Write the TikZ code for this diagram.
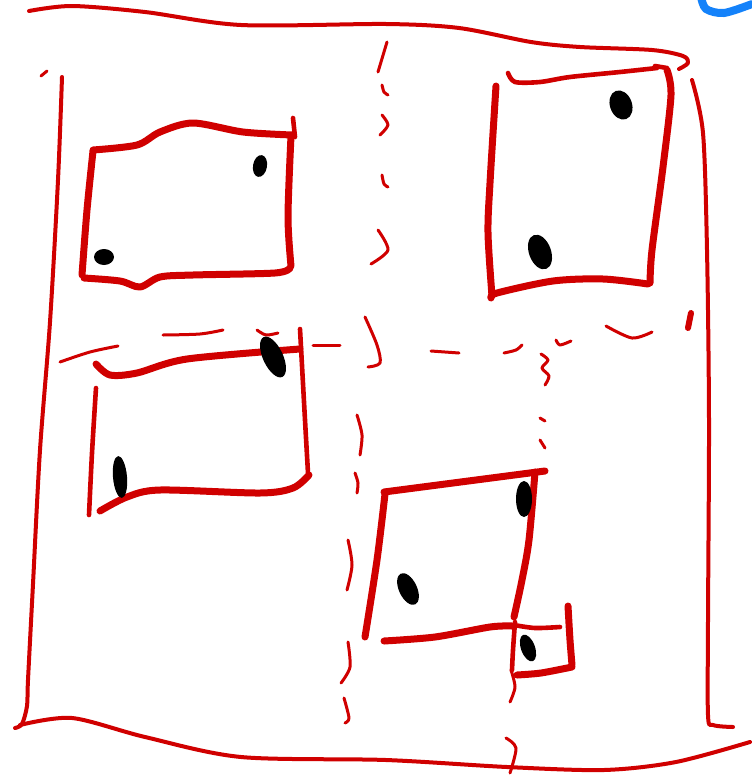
\documentclass[tikz,border=0pt]{standalone}
\definecolor{inkred}{RGB}{208,0,0}
\definecolor{inkblue}{RGB}{20,130,250}
\tikzset{
  frame/.style={draw=inkred, line width=4pt, line cap=round, line join=round},
  boxline/.style={draw=inkred, line width=7pt, line cap=round, line join=round},
  thinbox/.style={draw=inkred, line width=4.6pt, line cap=round, line join=round},
  dashmark/.style={draw=inkred, line width=3pt, line cap=round, line join=round},
  blob/.style={fill=black}
}
\begin{document}
\begin{tikzpicture}[x=1pt,y=-1pt]
\useasboundingbox (0,0) rectangle (752,782);
% blue arc top right
\draw[draw=inkblue, line width=8pt, line cap=round] plot[smooth] coordinates {(701,-3) (706,9) (724,13) (752,4)};
% outer frame
\draw[frame] plot[smooth] coordinates {(29,11) (72,6) (145,12) (241,25) (386,24) (459,28) (531,42) (580,47) (652,50) (683,56) (688,63) (679,69)};
\draw[frame] plot[smooth] coordinates {(62,77) (58,180) (50,322) (40,450) (33,584) (28,680) (27,706) (22,724) (15,728)};
\draw[frame] plot[smooth] coordinates {(20,725) (72,718) (145,737) (241,757) (386,760) (507,767) (604,770) (676,762) (750,742)};
\draw[frame] plot[smooth] coordinates {(692,80) (703,133) (707,250) (709,420) (708,620) (708,715) (713,725) (733,727)};
\draw[dashmark] (41,76) -- (47,71);
% dashed vertical (upper middle)
\draw[dashmark] plot[smooth] coordinates {(387,42) (384,52) (378,72)};
\draw[dashmark] plot[smooth] coordinates {(382,85) (384,92) (388,95)};
\draw[dashmark] plot[smooth] coordinates {(382,115) (388,125) (380,135)};
\draw[dashmark] plot[smooth] coordinates {(382,175) (384,184) (388,187)};
\draw[dashmark] plot[smooth] coordinates {(378,230) (388,250) (371,264)};
\draw[dashmark] plot[smooth] coordinates {(365,317) (377,345) (380,363) (368,367)};
% dashed horizontal
\draw[dashmark] plot[smooth] coordinates {(60,362) (90,352) (118,346)};
\draw[dashmark] plot[smooth] coordinates {(163,335) (200,334) (223,330)};
\draw[dashmark] plot[smooth] coordinates {(257,330) (266,335) (278,333)};
\draw[dashmark] (313,345) -- (340,345);
\draw[dashmark] (431,351) -- (459,353);
\draw[dashmark] plot[smooth] coordinates {(504,353) (516,350) (522,345)};
\draw[dashmark] plot[smooth] coordinates {(556,340) (560,345) (571,341)};
\draw[dashmark] plot[smooth] coordinates {(606,326) (632,338) (652,332)};
\draw[draw=inkred, line width=6pt, line cap=round] (691,313) -- (688,328);
% dashed vertical (lower right)
\draw[dashmark] plot[smooth] coordinates {(541,354) (548,360) (542,368) (549,376) (545,385)};
\draw[dashmark] plot[smooth] coordinates {(540,418) (545,421)};
\draw[dashmark] plot[smooth] coordinates {(540,440) (545,448)};
\draw[dashmark] plot[smooth] coordinates {(511,670) (515,687) (510,702)};
\draw[dashmark] plot[smooth] coordinates {(506,738) (516,748) (510,773)};
% dashed vertical (lower left)
\draw[dashmark] plot[smooth] coordinates {(357,415) (362,435) (360,455)};
\draw[dashmark] plot[smooth] coordinates {(355,473) (358,483) (357,493)};
\draw[dashmark] plot[smooth] coordinates {(348,540) (352,565) (347,590)};
\draw[dashmark] plot[smooth] coordinates {(348,642) (350,667) (341,683)};
\draw[dashmark] plot[smooth] coordinates {(344,698) (349,718) (345,723)};
% box 1
\draw[boxline] plot[smooth] coordinates {(93,150) (137,145) (160,132) (193,123) (243,132) (292,135)};
\draw[boxline] plot[smooth] coordinates {(291,136) (288,217) (291,266)};
\draw[thinbox] (293,118) -- (295,137);
\draw[boxline] plot[smooth] coordinates {(290,268) (275,273) (193,275) (160,277) (140,287) (120,281) (84,278)};
\draw[boxline] plot[smooth] coordinates {(82,275) (87,210) (93,151)};
% box 2
\draw[thinbox] plot[smooth] coordinates {(508,73) (515,82) (540,82) (570,77) (620,72) (657,68)};
\draw[thinbox] plot[smooth] coordinates {(655,66) (667,68)};
\draw[boxline] plot[smooth] coordinates {(667,70) (671,95) (663,167) (652,250) (650,283)};
\draw[boxline] plot[smooth] coordinates {(648,284) (603,279) (553,281) (497,293) (491,298)};
\draw[boxline] plot[smooth] coordinates {(492,296) (488,233) (490,183) (496,86)};
% box 3
\draw[boxline] plot[smooth] coordinates {(96,364) (110,375) (137,373) (187,359) (300,349)};
\draw[thinbox] plot[smooth] coordinates {(300,329) (305,420) (308,473)};
\draw[boxline] plot[smooth] coordinates {(309,475) (293,488) (260,493) (160,490) (127,497) (100,511)};
\draw[thinbox] plot[smooth] coordinates {(96,388) (92,453) (89,515)};
% box 4
\draw[boxline] plot[smooth] coordinates {(384,492) (430,486) (545,471)};
\draw[boxline] plot[smooth] coordinates {(535,472) (529,540) (522,580) (514,617)};
\draw[boxline] plot[smooth] coordinates {(385,494) (377,560) (365,637)};
\draw[boxline] plot[smooth] coordinates {(384,641) (435,637) (490,627) (512,626)};
% box 5
\draw[thinbox] plot[smooth] coordinates {(514,625) (535,628) (560,627)};
\draw[boxline] plot[smooth] coordinates {(568,606) (570,640) (572,665)};
\draw[boxline] plot[smooth] coordinates {(572,667) (541,673) (517,675)};
\draw[thinbox] plot[smooth] coordinates {(515,622) (513,650) (512,670)};
% blobs
\fill[blob] (260,166) ellipse [x radius=7, y radius=11, rotate=-10];
\fill[blob] (104,257) ellipse [x radius=10, y radius=8];
\fill[blob] (621,105) ellipse [x radius=11, y radius=15, rotate=20];
\fill[blob] (540,252) ellipse [x radius=11, y radius=18, rotate=20];
\fill[blob] (273,357) ellipse [x radius=10, y radius=22, rotate=25];
\fill[blob] (120,477) ellipse [x radius=7, y radius=21, rotate=5];
\fill[blob] (524,499) ellipse [x radius=8, y radius=18];
\fill[blob] (408,589) ellipse [x radius=9, y radius=17, rotate=25];
\fill[blob] (528,648) ellipse [x radius=7, y radius=14, rotate=20];
\end{tikzpicture}
\end{document}
